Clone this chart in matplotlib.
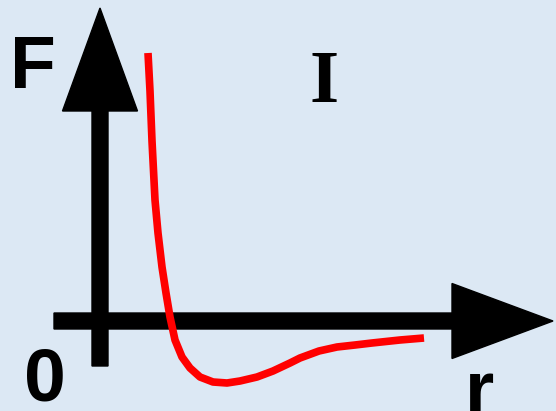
import matplotlib.pyplot as plt
import numpy as np

# force curve (1 unit = 1 pixel, origin where the axes cross)
r = [48, 50, 52, 55, 58, 62, 66, 70, 75, 82, 90, 100, 113, 127, 140,
     157, 173, 190, 200, 219, 237, 255, 272, 300, 324]
F = [268, 230, 180, 121, 88, 54, 28, 4, -19, -36, -47, -56, -61, -62, -60,
     -56, -50, -42, -37, -30, -26, -24, -22, -19, -17]

# axis extents
x_axis = [-46, 453]
y_axis = [-45, 313]

bg = '#dce8f4'

fig = plt.figure(figsize=(5.56, 4.11), dpi=100, facecolor=bg)
ax = fig.add_axes([0, 0, 1, 1])
ax.set_facecolor(bg)
ax.set_xlim(-100, 456)
ax.set_ylim(-90, 321)
ax.axis('off')

ax.arrow(x_axis[0], 0, x_axis[1] - x_axis[0], 0, width=16, head_width=75,
         head_length=101, length_includes_head=True, color='black', zorder=2)
ax.arrow(0, y_axis[0], 0, y_axis[1] - y_axis[0], width=16, head_width=75,
         head_length=103, length_includes_head=True, color='black', zorder=2)

ax.plot(r, F, color='#ff0000', lw=5.5, solid_capstyle='butt', solid_joinstyle='round', zorder=3)

ax.text(-67, 253, 'F', fontsize=54, fontweight='bold', family='Liberation Sans',
        ha='center', va='center')
ax.text(-55, -60, '0', fontsize=54, fontweight='bold', family='Liberation Sans',
        ha='center', va='center')
ax.text(380, -72, 'r', fontsize=54, fontweight='bold', family='Liberation Sans',
        ha='center', va='center')
ax.text(224, 237, 'I', fontsize=54, fontweight='bold', family='Liberation Serif',
        ha='center', va='center')

fig.savefig('out.png', dpi=100, facecolor=bg)
